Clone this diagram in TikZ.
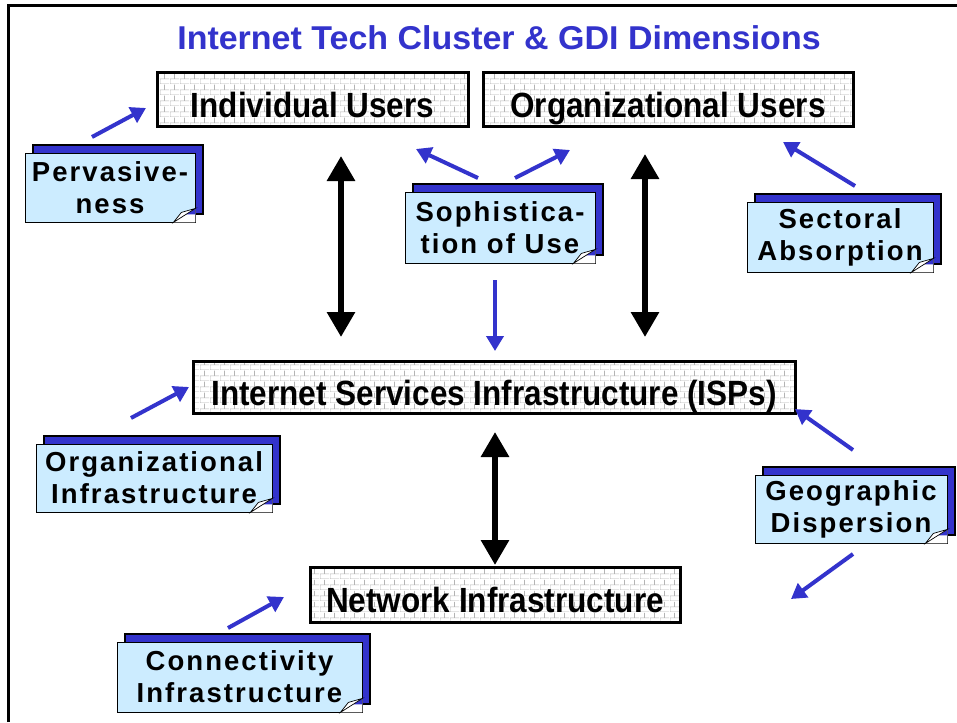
\documentclass[tikz,border=0pt]{standalone}
\usepackage{fontspec}
\setmainfont{Liberation Sans}
\newfontfamily\boxfont{Liberation Sans}[FakeStretch=0.9]
\newfontfamily\titlefont{Liberation Sans}[FakeStretch=1.03]
\newfontfamily\notefont{Liberation Sans}[LetterSpace=7.5]
\usetikzlibrary{arrows.meta,calc,shadows,patterns}
\definecolor{noteblue}{HTML}{CCECFF}
\definecolor{deepblue}{HTML}{3333CC}
\definecolor{brickgray}{HTML}{B4B4B4}
\pgfdeclarepatternformonly{mybricks}{\pgfpointorigin}{\pgfpoint{10pt}{11pt}}{\pgfpoint{10pt}{11pt}}{%
  \pgfsetlinewidth{0.7pt}%
  \pgfpathmoveto{\pgfpoint{0pt}{0pt}}\pgfpathlineto{\pgfpoint{10pt}{0pt}}%
  \pgfpathmoveto{\pgfpoint{0pt}{5.5pt}}\pgfpathlineto{\pgfpoint{10pt}{5.5pt}}%
  \pgfpathmoveto{\pgfpoint{0pt}{0pt}}\pgfpathlineto{\pgfpoint{0pt}{5.5pt}}%
  \pgfpathmoveto{\pgfpoint{5pt}{5.5pt}}\pgfpathlineto{\pgfpoint{5pt}{11pt}}%
  \pgfusepath{stroke}}
\tikzset{
  brickbox/.style={draw=black, line width=3pt, preaction={fill=white},
    pattern=mybricks, pattern color=brickgray, inner sep=0pt,
    text height=36pt, text depth=0pt,
    font=\boxfont\bfseries\fontsize{35}{40}\selectfont},
  notebox/.style={fill=noteblue, draw=black, line width=0.8pt,
    copy shadow={shadow xshift=8pt, shadow yshift=8pt, fill=deepblue,
      draw=black, opacity=1, line width=1.2pt},
    align=center, inner sep=0pt,
    font=\notefont\bfseries\fontsize{27.5}{32}\selectfont},
  bluearr/.style={draw=deepblue, line width=4pt, -{Triangle[length=15pt,width=17pt]}},
  dblarr/.style={draw=black, line width=6pt,
    {Triangle[length=25pt,width=27pt]}-{Triangle[length=25pt,width=27pt]}},
}
\begin{document}
\begin{tikzpicture}[x=1pt,y=-1pt]
\useasboundingbox (0,0) rectangle (957,722);
\fill[white] (0,0) rectangle (957,722);
% frame
\draw[line width=3pt] (8,722) -- (8,6) -- (957,6);
% title
\node[font=\titlefont\bfseries\fontsize{33}{38}\selectfont, text=deepblue, anchor=base] (title) at (499,50) {Internet Tech Cluster \& GDI Dimensions};
% brick boxes
\node[brickbox, minimum width=311pt, minimum height=54pt] (indiv) at (312.5,100) {Individual Users};
\node[brickbox, minimum width=370pt, minimum height=54pt] (orgu) at (668,100) {Organizational Users};
\node[brickbox, minimum width=602pt, minimum height=52pt] (isp) at (494,387) {Internet Services Infrastructure (ISPs)};
\node[brickbox, minimum width=370pt, minimum height=55pt] (net) at (495,594.5) {Network Infrastructure};
% notes
\node[notebox, minimum width=170pt, minimum height=69pt] (perv) at (110,187.5) {Pervasive-\\ness};
\node[notebox, minimum width=190pt, minimum height=71pt] (soph) at (500,227.5) {Sophistica-\\tion of Use};
\node[notebox, minimum width=186pt, minimum height=70pt] (sect) at (840,237) {Sectoral\\Absorption};
\node[notebox, minimum width=236pt, minimum height=68pt] (orgi) at (154,478) {Organizational\\Infrastructure};
\node[notebox, minimum width=192pt, minimum height=68pt] (geo) at (851,509) {Geographic\\Dispersion};
\node[notebox, minimum width=245pt, minimum height=70pt] (conn) at (239.5,677) {Connectivity\\Infrastructure};
% folded corners
\foreach \n in {perv,soph,sect,orgi,geo,conn}{
  \fill[white] ($(\n.south east)+(-22,0)$) -- (\n.south east) -- ($(\n.south east)+(0,-14)$) -- cycle;
  \fill[deepblue] ($(\n.south east)+(0,-14)$) -- ($(\n.south east)+(0,-8)$) -- ($(\n.south east)+(-9.4,-8)$) -- cycle;
  \filldraw[fill=white, draw=black, line width=0.7pt] ($(\n.south east)+(-22,0)$) -- ($(\n.south east)+(-14,-10)$) -- ($(\n.south east)+(0,-14)$) -- cycle;
}
% blue arrow coordinates
\coordinate (a1s) at (92,137);   \coordinate (a1e) at (146,108);
\coordinate (a2s) at (478,178);  \coordinate (a2e) at (416,149);
\coordinate (a3s) at (515,178);  \coordinate (a3e) at (570,150);
\coordinate (a4s) at (495,280);  \coordinate (a4e) at (495,351);
\coordinate (a5s) at (855,186);  \coordinate (a5e) at (783,142);
\coordinate (a6s) at (131,418);  \coordinate (a6e) at (189,387);
\coordinate (a7s) at (853,450);  \coordinate (a7e) at (795,409);
\coordinate (a8s) at (853,554);  \coordinate (a8e) at (791,599);
\coordinate (a9s) at (228,628);  \coordinate (a9e) at (284,597);
\foreach \i in {1,...,9}{\draw[bluearr] (a\i s) -- (a\i e);}
% black double arrows
\coordinate (d1a) at (341,156); \coordinate (d1b) at (341,337);
\coordinate (d2a) at (645,154); \coordinate (d2b) at (645,337);
\coordinate (d3a) at (495,432); \coordinate (d3b) at (495,565);
\draw[dblarr] (d1a) -- (d1b);
\draw[dblarr] (d2a) -- (d2b);
\draw[dblarr] (d3a) -- (d3b);
\end{tikzpicture}
\end{document}
